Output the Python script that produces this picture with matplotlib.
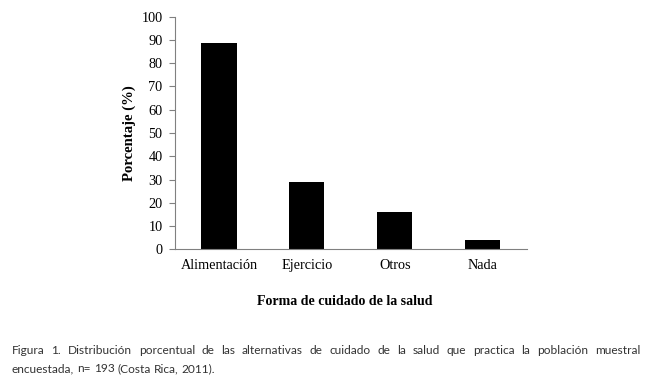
import matplotlib.pyplot as plt
import numpy as np

categories = ['Alimentación', 'Ejercicio', 'Otros', 'Nada']
values = [88.6, 29.1, 15.9, 4.0]
y_ticks = [0, 10, 20, 30, 40, 50, 60, 70, 80, 90, 100]

caption_lines = [
    'Figura 1. Distribución porcentual de las alternativas de cuidado de la salud que practica la población muestral',
    'encuestada, n= 193 (Costa Rica, 2011).',
]

plt.rcParams['font.family'] = ['Liberation Serif', 'DejaVu Serif']

fig = plt.figure(figsize=(6.51, 3.85), dpi=100)
ax = fig.add_axes([0.2688, 0.3525, 0.5402, 0.6041])

x = np.arange(len(categories))
ax.bar(x, values, width=0.4, color='black')

ax.set_xlim(-0.5, len(categories) - 0.5)
ax.set_ylim(0, 100)
ax.set_yticks(y_ticks)
ax.set_xticks(x)
ax.set_xticklabels(categories)
ax.tick_params(axis='y', length=4, width=0.8, color='#808080', labelsize=10.3, pad=5)
ax.tick_params(axis='x', length=0, labelsize=10.3, pad=7)

for side in ['top', 'right']:
    ax.spines[side].set_visible(False)
for side in ['left', 'bottom']:
    ax.spines[side].set_color('#808080')
    ax.spines[side].set_linewidth(0.8)

ax.set_ylabel('Porcentaje (%)', fontsize=10.6, fontweight='bold', labelpad=4)
fig.text(0.529, 0.218, 'Forma de cuidado de la salud', fontsize=10,
         fontweight='bold', ha='center', va='center')

# caption, justified on the first line
cap_font = dict(family=['Lato', 'DejaVu Sans'], fontsize=8.6, color='#333333')
left_px, right_px = 12, 640
renderer = fig.canvas.get_renderer()


def word_width(w):
    t = fig.text(0, 0, w, **cap_font)
    width = t.get_window_extent(renderer).width
    t.remove()
    return width


line_y = [385 - 350, 385 - 369]
for i, line in enumerate(caption_lines):
    words = line.split(' ')
    widths = [word_width(w) for w in words]
    if i == 0 and len(words) > 1:
        gap = (right_px - left_px - sum(widths)) / (len(words) - 1)
    else:
        gap = word_width('a b') - word_width('ab')
    xpos = left_px
    for w, wd in zip(words, widths):
        fig.text(xpos / 651, line_y[i] / 385, w, ha='left', va='center', **cap_font)
        xpos += wd + gap

fig.savefig('out.png', dpi=100)
